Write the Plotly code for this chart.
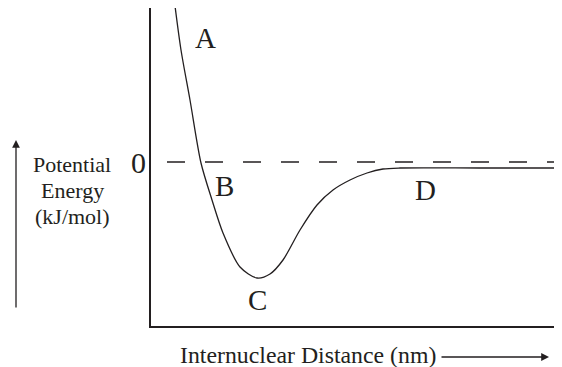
import plotly.graph_objects as go

# internuclear distance (arbitrary units) and potential energy (arbitrary, 0 = separated atoms)
distance = [0.235, 0.30, 0.39, 0.50, 0.61, 0.72, 0.89, 1.06, 1.19, 1.32, 1.49, 1.66,
            1.82, 1.99, 2.16, 2.32, 2.49, 3.29, 4.06]
energy = [160, 112, 62, -1, -38, -71, -105, -116, -112, -98, -68, -43,
          -28, -18, -11, -7, -6, -6, -6]

point_labels = ['A', 'B', 'C', 'D']
label_x = [0.54, 0.73, 1.06, 2.74]
label_y = [124, -24, -138, -28]

ink = '#231f20'
serif = 'Liberation Serif, Times New Roman, serif'

# page has an 8px body margin, so the figure is shrunk by that much
W, H = 554, 359
L, R, T, B = 143, 5, 0, 41
pw, ph = W - L - R, H - T - B


def px(x):
    return (x - 8 - L) / pw


def py(y):
    return (H - B - (y - 8)) / ph


fig = go.Figure()
fig.add_trace(go.Scatter(
    x=distance, y=energy,
    mode='lines',
    line=dict(color=ink, width=1.3, shape='spline', smoothing=0.8),
    hoverinfo='skip',
    showlegend=False,
))

# zero energy reference
fig.add_shape(type='line', xref='paper', yref='y',
              x0=px(167), x1=px(562), y0=0, y1=0,
              line=dict(color=ink, width=1.3, dash='18px,20px'))

annotations = []
for t, x, y in zip(point_labels, label_x, label_y):
    annotations.append(dict(x=x, y=y, xref='x', yref='y', text=t, showarrow=False,
                            xanchor='center', yanchor='middle',
                            font=dict(size=29, family=serif, color=ink)))

annotations.append(dict(x=px(138), y=py(162), xref='paper', yref='paper', text='0',
                        showarrow=False, xanchor='center', yanchor='middle',
                        font=dict(size=30, family=serif, color=ink)))

# three separate lines so the spacing can be tighter than plotly's <br>
for t, yy in zip(['Potential', 'Energy', '(kJ/mol)'], [164, 190, 216]):
    annotations.append(dict(x=px(72), y=py(yy), xref='paper', yref='paper',
                            text=t, showarrow=False, xanchor='center', yanchor='middle',
                            font=dict(size=22, family=serif, color=ink)))

annotations.append(dict(x=px(307.5), y=py(355), xref='paper', yref='paper',
                        text='Internuclear Distance (nm)', showarrow=False,
                        xanchor='center', yanchor='middle',
                        font=dict(size=23.8, family=serif, color=ink)))

# arrows
annotations.append(dict(x=px(16), y=py(140), xref='paper', yref='paper', text='',
                        showarrow=True, ax=0, ay=169, arrowhead=2, arrowsize=1.2,
                        arrowwidth=1.3, arrowcolor=ink))
annotations.append(dict(x=px(549), y=py(357), xref='paper', yref='paper', text='',
                        showarrow=True, ax=-109, ay=0, arrowhead=2, arrowsize=1.2,
                        arrowwidth=1.3, arrowcolor=ink))

fig.update_layout(
    width=W, height=H,
    margin=dict(l=L, r=R, t=T, b=B),
    paper_bgcolor='white',
    plot_bgcolor='white',
    annotations=annotations,
    xaxis=dict(range=[0, 4.06], showline=True, linecolor=ink, linewidth=1.5,
               showgrid=False, zeroline=False, showticklabels=False, ticks=''),
    yaxis=dict(range=[-164, 154], showline=True, linecolor=ink, linewidth=1.5,
               showgrid=False, zeroline=False, showticklabels=False, ticks=''),
)

fig.write_html("out.html")
